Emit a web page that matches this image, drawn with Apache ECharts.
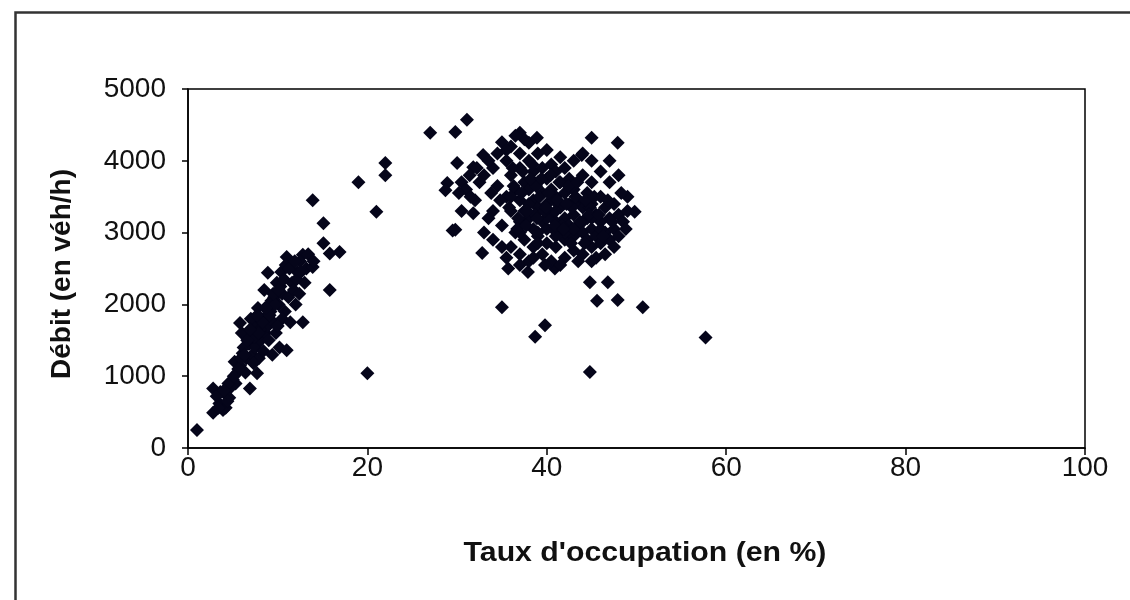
<!DOCTYPE html>
<html>
<head>
<meta charset="utf-8">
<script src="https://cdn.jsdelivr.net/npm/echarts@6/dist/echarts.min.js"></script>
<style>html,body{margin:0;padding:0;background:#fff}#c{width:1130px;height:600px}</style>
</head>
<body>
<div id="c"></div>
<script>
const xTitle = "Taux d'occupation (en %)";
const yTitle = "Débit (en véh/h)";
const xTicks = [0, 20, 40, 60, 80, 100];
const yTicks = [0, 1000, 2000, 3000, 4000, 5000];

// Occupation (%) / flow (veh/h) – free-flow branch
const fluideOcc = [1,2.8,3.9,3.5,4.2,2.8,3.6,4.1,4.6,5,5.2,5.5,6.1,5.8,6.5,6.9,7.7,7.2,6.8,7.5,7.9,5.8,6.7,7.1,7.6,8.1,8.4,8.6,8.2,8.9,9.2,8.6,9.5,9.8,10.2,11,8.9,9.6,10.1,10.5,10.8,11.2,11.6,12,11,11.5,12.2,12.8,12.8,12.5,13.2,13.9,13.4,14,13.9,15.1,15.1,15.8,16.9,15.8,6.2,7.3,8,9,9.4,10.5,11.8,9.9,10.4,7,6.4,5.3,4.8,3.2,9.3,8.5,7.8,11.4,12.4,10.9,13,6,7.4,8.8,10,4.4,5.9,
  4.5,5.6,6.3,6.6,7.9,8.3,9.1,9.7,10.3,10.7,11.3,12.1,5.1,6.9,7.7,8.7,9.5,10.1,11.9,12.6,3.4,4.0,
  19,21,20,22,22];
const fluideDebit = [250,490,530,620,560,830,780,760,700,950,1200,1050,1320,1150,1250,830,1040,1300,1450,1400,1250,1740,1600,1550,1700,1500,1350,1600,1800,1700,1900,1950,1750,1600,1400,1360,2440,2100,2000,2150,1900,2100,2300,2000,2660,2550,2450,1750,2690,2600,2500,2520,2700,2600,3450,3130,2850,2710,2730,2200,1400,1180,1650,1500,1300,1800,2200,2300,2450,1800,1050,900,850,720,2050,2200,1950,1750,2150,2550,2300,1600,1550,1850,1700,650,1250,
  900,1100,1300,1500,1600,1750,1850,2000,2250,2350,2500,2350,1000,1650,1850,1950,2150,2200,2600,2450,560,800,
  3700,3290,1040,3970,3800];

// congested branch
const congOcc = [27,29.8,31.1,30,31.8,32.9,28.9,28.7,29.5,31.8,32.8,29.8,35.7,37.9,40.9,35,39.8,38.7,44.8,44.8,46.8,45.6,47.9,50.7,57.7,45,47.9,43.9,49.8,37,35,38.9,
30.5,31,32,33,33.5,33,34,34,35,34.5,34,35.5,35.5,36,36,36,36,36.5,36.5,37,37,37,37,37,37.5,37.5,37.5,38,38,38,38,38,38.5,38.5,38.5,38.5,39,39,39,39,39.5,39.5,39.5,39.5,40,40,40,40,40,40.5,40.5,40.5,40.5,41,41,41,41,41.5,41.5,41.5,41.5,42,42,42,42,42,42.5,42.5,42.5,43,43,43,43,43,43.5,43.5,44,44,44,44,44.5,44.5,44.5,45,45,45,45,45.5,45.5,45.5,46,46,46,46.5,46.5,47,47,47,47.5,47.5,48,48,48,48.5,49,49,46,47,44,45,37.5,36.5,35.5,34.5,33.5,32.5,31.5,30.5,36,38,40,42,44,46,39,41,43,45,37,35,39,41,43,36.8,38.8,40.8,42.8,44.8,46.8,48.8,46.5,47.5,45,43.5,41.5,39.8,38.5,37,35.5,
36.3,37.2,38.2,39.2,40.2,41.2,42.2,43.2,36.7,37.7,38.7,39.7,40.7,41.7,42.7,43.7,44.7,36.2,37.3,38.4,39.4,40.4,41.4,42.4,43.4,44.3,45.3,37.8,38.9,39.9,40.9,41.9,35.8,34.8,33.8,32.2,31.4,30.2,44.2,45.8,46.3,47.3,48.3];
const congDebit = [4390,4400,4570,3970,3910,4080,3690,3590,3030,3270,2715,3040,2500,2450,2500,1960,1710,1550,1060,2310,2310,2050,2060,1960,1540,4320,4250,4080,3290,4390,4260,4320,
3700,3600,3450,3800,3200,3000,3300,2900,3100,3650,3900,3500,4000,4200,3800,3300,2800,3000,3600,4100,3900,3450,3150,2700,3700,3300,2900,4250,4000,3600,3200,2600,3850,3450,3050,2800,4100,3700,3350,2950,3900,3550,3150,2700,4150,3750,3400,3050,2850,3950,3600,3250,2600,3850,3500,3150,2800,4050,3700,3350,3000,3900,3550,3200,2900,2650,3750,3400,3100,4000,3600,3250,2950,2750,3450,3100,3800,3350,3000,2700,3550,3200,2900,3700,3400,3050,2800,3250,2950,2650,3500,3150,2850,3350,3000,3700,3200,2900,3400,3050,3800,3250,2950,3150,3300,3500,3850,4000,4100,4000,4300,4350,4150,4100,4000,3700,3500,3300,3500,3400,3200,3000,3150,3050,3000,3300,3400,3200,3000,2800,2850,2950,3050,3200,3650,3450,3350,3350,3450,3050,2700,2800,2600,2600,2550,2550,2650,2550,2650,
3650,3550,3750,3500,3550,3450,3400,3500,3050,3100,3250,3300,3050,3100,2850,3150,3250,3900,3850,3950,3750,3800,3700,3650,3700,3450,3500,3300,3200,3350,3100,3050,3350,3450,3550,3900,3800,3550,2850,3250,2950,3150,3550];

const pts = [];
fluideOcc.forEach((x, i) => pts.push([x, fluideDebit[i]]));
congOcc.forEach((x, i) => pts.push([x, congDebit[i]]));

const chart = echarts.init(document.getElementById('c'), null, {renderer: 'canvas'});
const font = "'Liberation Sans', Arial, sans-serif";
chart.setOption({
  animation: false,
  backgroundColor: '#ffffff',
  grid: {left: 188, top: 89, width: 897, height: 359, show: true, borderColor: '#000', borderWidth: 1.5, backgroundColor: '#fff'},
  xAxis: {
    type: 'value', min: xTicks[0], max: xTicks[xTicks.length - 1], interval: 20,
    axisLine: {show: true, lineStyle: {color: '#000', width: 1.5}},
    axisTick: {show: true, length: 7, lineStyle: {color: '#000', width: 1.5}},
    axisLabel: {color: '#111', fontSize: 28, fontFamily: font, margin: 6, formatter: v => String(v)},
    splitLine: {show: false}
  },
  yAxis: {
    type: 'value', min: yTicks[0], max: yTicks[yTicks.length - 1], interval: 1000,
    axisLine: {show: true, lineStyle: {color: '#000', width: 1.5}},
    axisTick: {show: true, length: 6, lineStyle: {color: '#000', width: 1.5}},
    axisLabel: {color: '#111', fontSize: 28, fontFamily: font, margin: 22, formatter: v => String(v)},
    splitLine: {show: false}
  },
  series: [{
    type: 'scatter',
    data: pts,
    symbol: 'diamond',
    symbolSize: 14,
    itemStyle: {color: '#05051a', opacity: 1},
    silent: true
  }],
  graphic: [
    {type: 'rect', left: 13, top: 10, shape: {width: 1140, height: 620}, style: {fill: 'none', stroke: '#333', lineWidth: 2.5}, z: -10},
    {type: 'text', x: 645, y: 553, scaleX: 1.08, style: {text: xTitle, font: "bold 28px 'Liberation Sans', Arial, sans-serif", fill: '#111', align: 'center', verticalAlign: 'middle'}},
    {type: 'text', x: 62, y: 274, rotation: Math.PI / 2, style: {text: yTitle, font: "bold 28px 'Liberation Sans', Arial, sans-serif", fill: '#111', align: 'center', verticalAlign: 'middle'}}
  ]
});
</script>
</body>
</html>
